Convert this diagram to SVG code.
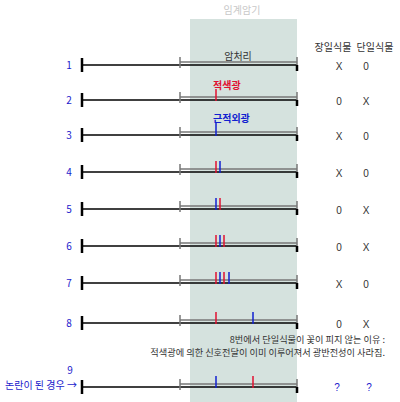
<svg xmlns="http://www.w3.org/2000/svg" width="400" height="402" viewBox="0 0 400 402">
<style>
text{font-family:"Noto Sans CJK KR","Liberation Sans",sans-serif;font-size:10px}
.num{fill:#1a1acc;text-anchor:middle}
.blk{fill:#333}
.note{fill:#333;font-size:9.2px;text-anchor:end}
.mark{fill:#333;text-anchor:middle;font-family:"Liberation Sans",sans-serif}
.main{stroke:#000;stroke-width:1.5}
.lt{stroke:#000;stroke-width:2.5}
.gl{stroke:#777;stroke-width:1.5}
.gt{stroke:#777;stroke-width:1.5}
.rt{stroke:#000;stroke-width:2.5}
.r{stroke:#e01030;stroke-width:1.5}
.b{stroke:#1020d0;stroke-width:1.5}
</style>
<rect width="400" height="402" fill="#fff"/>
<rect id="period" x="190" y="19" width="107" height="383" fill="#d5e2de"/>
<text x="242" y="14" text-anchor="middle" fill="#c8c8c8">임계암기</text>
<text x="333" y="51" text-anchor="middle" class="blk">장일식물</text>
<text x="375" y="51" text-anchor="middle" class="blk">단일식물</text>
<g id="connectors">
<defs>
<g id="bar">
<line class="main" x1="82" y1="0" x2="297" y2="0"/>
<line class="lt" x1="82" y1="-7" x2="82" y2="7"/>
<line class="gl" x1="180" y1="-3" x2="297" y2="-3"/>
<line class="gt" x1="180" y1="-8" x2="180" y2="3"/>
<line class="gt" x1="297" y1="-8" x2="297" y2="0"/>
<line class="rt" x1="297" y1="0" x2="297" y2="6"/>
</g>
</defs>
<use href="#bar" y="65"/>
<use href="#bar" y="100"/>
<use href="#bar" y="135"/>
<use href="#bar" y="172"/>
<use href="#bar" y="209"/>
<use href="#bar" y="246"/>
<use href="#bar" y="283"/>
<use href="#bar" y="323"/>
<use href="#bar" y="387"/>
</g>
<g id="row1">
<text x="69" y="69" class="num">1</text>
<text x="238" y="60" text-anchor="middle" class="blk">암처리</text>
<text x="339" y="70" class="mark">X</text><text x="366" y="70" class="mark">0</text>
</g>
<g id="row2">
<text x="69" y="104" class="num">2</text>
<text x="213" y="89" fill="#e01030" font-weight="bold">적색광</text>
<line class="r" x1="216" y1="89" x2="216" y2="101"/>
<text x="339" y="105" class="mark">0</text><text x="366" y="105" class="mark">X</text>
</g>
<g id="row3">
<text x="69" y="139" class="num">3</text>
<text x="213" y="122" fill="#1020d0" font-weight="bold">근적외광</text>
<line class="b" x1="216" y1="123" x2="216" y2="136"/>
<text x="339" y="140" class="mark">X</text><text x="366" y="140" class="mark">0</text>
</g>
<g id="row4">
<text x="69" y="176" class="num">4</text>
<line class="r" x1="216" y1="161" x2="216" y2="173"/>
<line class="b" x1="220" y1="161" x2="220" y2="173"/>
<text x="339" y="177" class="mark">X</text><text x="366" y="177" class="mark">0</text>
</g>
<g id="row5">
<text x="69" y="213" class="num">5</text>
<line class="b" x1="216" y1="198" x2="216" y2="210"/>
<line class="r" x1="220" y1="198" x2="220" y2="210"/>
<text x="339" y="214" class="mark">0</text><text x="366" y="214" class="mark">X</text>
</g>
<g id="row6">
<text x="69" y="250" class="num">6</text>
<line class="r" x1="216" y1="235" x2="216" y2="247"/>
<line class="b" x1="220" y1="235" x2="220" y2="247"/>
<line class="r" x1="224" y1="235" x2="224" y2="247"/>
<text x="339" y="251" class="mark">0</text><text x="366" y="251" class="mark">X</text>
</g>
<g id="row7">
<text x="69" y="287" class="num">7</text>
<line class="r" x1="216" y1="272" x2="216" y2="284"/>
<line class="b" x1="220" y1="272" x2="220" y2="284"/>
<line class="r" x1="224" y1="272" x2="224" y2="284"/>
<line class="b" x1="229" y1="272" x2="229" y2="284"/>
<text x="339" y="288" class="mark">X</text><text x="366" y="288" class="mark">0</text>
</g>
<g id="row8">
<text x="69" y="327" class="num">8</text>
<line class="r" x1="216" y1="312" x2="216" y2="324"/>
<line class="b" x1="253" y1="312" x2="253" y2="324"/>
<text x="339" y="328" class="mark">0</text><text x="366" y="328" class="mark">X</text>
<text x="385" y="343" class="note">8번에서 단일식물이 꽃이 피지 않는 이유 :</text>
<text x="385" y="356" class="note">적색광에 의한 신호전달이 이미 이루어져서 광반전성이 사라짐.</text>
</g>
<g id="row9">
<text x="70" y="374" class="num">9</text>
<text x="5" y="389" fill="#1a1acc">논란이 된 경우 →</text>
<line class="b" x1="216" y1="376" x2="216" y2="388"/>
<line class="r" x1="253" y1="376" x2="253" y2="388"/>
<text x="337" y="391" class="mark" style="fill:#1a1acc">?</text><text x="369" y="391" class="mark" style="fill:#1a1acc">?</text>
</g>
</svg>
